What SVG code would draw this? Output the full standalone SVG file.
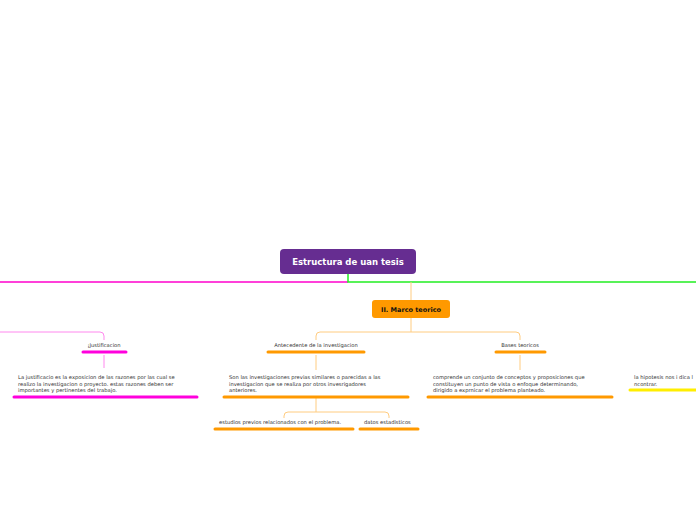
<svg xmlns="http://www.w3.org/2000/svg" width="696" height="520" viewBox="0 0 696 520">
<style>
text{font-family:"DejaVu Sans","Liberation Sans",sans-serif;fill:#333}
.s{font-size:5.2px}
.c{text-anchor:middle}
.u{stroke-width:3;stroke-linecap:round;fill:none}
.o{stroke:#ff9900}.m{stroke:#ff00dd}.y{stroke:#ffee00}
.lo{stroke:#ffcc80;fill:none;stroke-width:1}
.lm{stroke:#ff88ee;fill:none;stroke-width:1}
</style>
<rect width="696" height="520" fill="#fff"/>
<g id="connectors">
<path d="M0 282H348" stroke="#ff00cc" stroke-width="1.5" fill="none"/>
<path d="M348 274V282H696" stroke="#22ee22" stroke-width="1.5" fill="none"/>
<path class="lo" d="M411 282V300M411 318V332M316 340V336Q316 332 320 332H516Q520 332 520 336V340"/>
<path class="lo" d="M316 355V370M520 355V370M316 398V412M284 418V416Q284 412 288 412H385Q389 412 389 416V418"/>
<path class="lm" d="M0 332H100Q104 332 104 336V340M104 355V368"/>
</g>
<g id="root"><rect x="280" y="249" width="136" height="25" rx="4" fill="#662d91"/><text x="348" y="265" class="c" style="font-size:8.5px;font-weight:bold;fill:#fff">Estructura de uan tesis</text></g>
<g id="marco"><rect x="372" y="300" width="78" height="18" rx="3" fill="#ff9900"/><text x="411" y="312" class="c" style="font-size:6.5px;font-weight:bold;fill:#111">II. Marco teorico</text></g>
<g id="antecedente"><text x="316" y="347" class="s c">Antecedente de la investigacion</text><path class="u o" d="M268 352H364"/></g>
<g id="antecedente-desc"><text class="s" x="229" y="379">Son las investigaciones previas similares o parecidas a las</text><text class="s" x="229" y="385.5">investigacion que se realiza por otros invesrigadores</text><text class="s" x="229" y="392">anteriores.</text><path class="u o" d="M224 397H408"/></g>
<g id="estudios"><text class="s" x="219" y="424">estudios previos relacionados con el problema.</text><path class="u o" d="M215 429H353"/></g>
<g id="datos"><text class="s" x="364" y="424">datos estadisticos</text><path class="u o" d="M360 429H418"/></g>
<g id="bases"><text x="520" y="347" class="s c">Bases teoricos</text><path class="u o" d="M496 352H545"/></g>
<g id="bases-desc"><text class="s" x="433" y="379">comprende un conjunto de conceptos y proposiciones que</text><text class="s" x="433" y="385.5">constituyen un punto de vista o enfoque determinando,</text><text class="s" x="433" y="392">dirigido a exprnicar el problema planteado.</text><path class="u o" d="M428 397H612"/></g>
<g id="hipotesis"><text class="s" x="634" y="379">la hipotesis nos i dica l</text><text class="s" x="634" y="385.5">ncontrar.</text><path class="u y" d="M630 390H696"/></g>
<g id="justificacion"><text x="104" y="347" class="s c">¡Justificacion</text><path class="u m" d="M83 352H126"/></g>
<g id="justificacion-desc"><text class="s" x="18" y="379">La justificacio es la exposicion de las razones por las cual se</text><text class="s" x="18" y="385.5">realizo la investigacion o proyecto. estas razones deben ser</text><text class="s" x="18" y="392">importantes y pertinentes del trabajo.</text><path class="u m" d="M14 397H197"/></g>
</svg>
